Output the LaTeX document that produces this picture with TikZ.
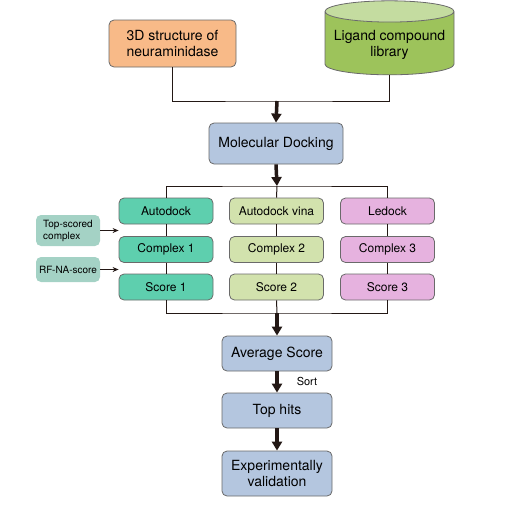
\documentclass[tikz,border=0pt]{standalone}
\usepackage{fontspec}
\setmainfont{TeX Gyre Heros}
\usetikzlibrary{shapes.geometric,arrows.meta,positioning}
\usepackage{xcolor}
\definecolor{boxline}{HTML}{6A6A6A}
\definecolor{linkline}{HTML}{231815}
\definecolor{orangebox}{HTML}{F8BA88}
\definecolor{libbody}{HTML}{9DC35B}
\definecolor{libtop}{HTML}{C4DCA0}
\definecolor{bluebox}{HTML}{B4C6DF}
\definecolor{tealbox}{HTML}{5ECFAE}
\definecolor{vinabox}{HTML}{D2E2AD}
\definecolor{pinkbox}{HTML}{E6B2DF}
\definecolor{sidebox}{HTML}{A4D2C5}

\begin{document}
\begin{tikzpicture}[x=1pt,y=-1pt,
            box/.style = {draw=boxline, line width=0.8pt, rounded corners=5pt,
                          align=center, inner sep=2pt},
            bigbox/.style = {box, font=\fontsize{14}{16.5}\selectfont},
            toolbox/.style = {box, minimum width=94pt, minimum height=26pt,
                              font=\fontsize{12}{14}\selectfont},
            sidenote/.style = {box, fill=sidebox, draw=none, minimum width=64pt,
                               align=left, font=\fontsize{10}{12}\selectfont},
            bigarrow/.style = {draw=linkline, line width=3.5pt,
                               -{Triangle[width=10pt,length=9pt]}},
            link/.style = {draw=linkline, line width=1pt},
            smallarrow/.style = {link, -{Stealth[width=5pt,length=6pt]}}
            ]
            \useasboundingbox (0,0) rectangle (522,507);

            % inputs
            \node[bigbox, fill=orangebox, minimum width=127pt, minimum height=47pt]
                (struct) at (172.5,43.5) {3D structure of\\neuraminidase};
            \node[cylinder, shape border rotate=90, draw=boxline, line width=0.8pt,
                  cylinder uses custom fill, cylinder body fill=libbody,
                  cylinder end fill=libtop, minimum width=129pt, minimum height=74pt,
                  aspect=0.18, align=center, font=\fontsize{14}{16.5}\selectfont]
                (lib) at (389.5,45) {Ligand compound\\library};
            \node[bigbox, fill=bluebox, minimum width=134pt, minimum height=41pt]
                (dock) at (276,143.5) {Molecular Docking};

            % docking programs
            \node[toolbox, fill=tealbox] (tool1) at (166,211) {Autodock};
            \node[toolbox, fill=tealbox] (cplx1) at (166,249.5) {Complex 1};
            \node[toolbox, fill=tealbox] (score1) at (166,287) {Score 1};
            \node[toolbox, fill=vinabox] (tool2) at (276.5,211) {Autodock vina};
            \node[toolbox, fill=vinabox] (cplx2) at (276.5,249.5) {Complex 2};
            \node[toolbox, fill=vinabox] (score2) at (276.5,287) {Score 2};
            \node[toolbox, fill=pinkbox] (tool3) at (387.5,211) {Ledock};
            \node[toolbox, fill=pinkbox] (cplx3) at (387.5,249.5) {Complex 3};
            \node[toolbox, fill=pinkbox] (score3) at (387.5,287) {Score 3};

            \node[sidenote, minimum height=31pt] (topc) at (68,230.5) {Top-scored\\complex};
            \node[sidenote, minimum height=25pt] (rfna) at (68,269.5) {RF-NA-score};

            % results
            \node[bigbox, fill=bluebox, minimum width=110pt, minimum height=35pt]
                (avg) at (277,353.5) {Average Score};
            \node[bigbox, fill=bluebox, minimum width=110pt, minimum height=35pt]
                (hits) at (277,410.5) {Top hits};
            \node[bigbox, fill=bluebox, minimum width=110pt, minimum height=45pt]
                (valid) at (277,473.5) {Experimentally\\validation};
            \node[font=\fontsize{11}{13}\selectfont] (sort) at (307,381) {Sort};

            \coordinate (join) at (277,101);
            \coordinate (split) at (277,186);
            \coordinate (merge) at (277,313);

            % connectors
            \draw[link] (struct.south) |- (join) -| (lib.south);
            \draw[bigarrow] (join) -- (dock.north);
            \draw[bigarrow] (dock.south) -- (split);
            \draw[link] (tool1.north) |- (split) -| (tool3.north);
            \draw[link] (split) -- (tool2.north);
            \foreach \i in {1,2,3}
                \draw[link] (tool\i) -- (cplx\i) -- (score\i);
            \draw[link] (score1.south) |- (merge) -| (score3.south);
            \draw[link] (score2.south) -- (merge);
            \draw[bigarrow] (merge) -- (avg.north);
            \draw[bigarrow] (avg) -- (hits);
            \draw[bigarrow] (hits) -- (valid);
            \draw[smallarrow] (topc.east) -- (topc.east -| tool1.west);
            \draw[smallarrow] (rfna.east) -- (rfna.east -| tool1.west);
\end{tikzpicture}
\end{document}
